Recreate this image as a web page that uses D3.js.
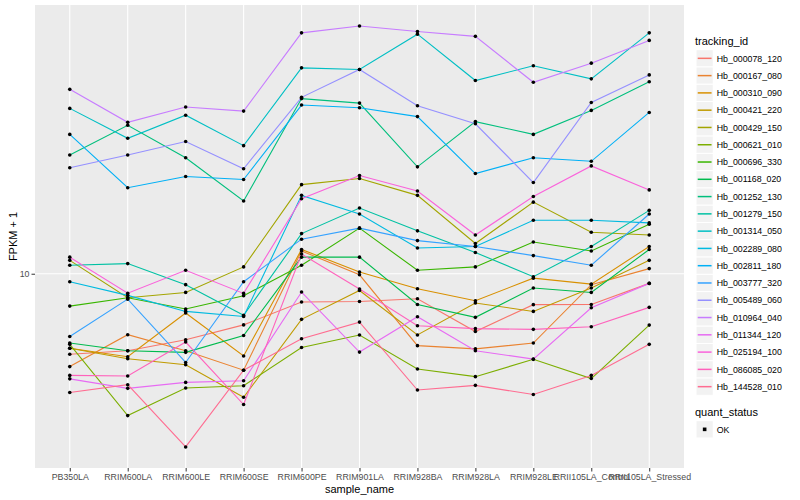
<!DOCTYPE html>
<html>
<head>
<meta charset="utf-8">
<script src="https://cdn.jsdelivr.net/npm/d3@7"></script>
<style>
body { margin: 0; background: #fff; }
text { font-family: "Liberation Sans", Arial, sans-serif; }
</style>
</head>
<body>
<div id="chart"></div>
<script>
const samples = ["PB350LA", "RRIM600LA", "RRIM600LE", "RRIM600SE", "RRIM600PE", "RRIM901LA",
    "RRIM928BA", "RRIM928LA", "RRIM928LE", "RRII105LA_Control", "RRII105LA_Stressed"];

const trackingIds = ["Hb_000078_120", "Hb_000167_080", "Hb_000310_090", "Hb_000421_220", "Hb_000429_150",
    "Hb_000621_010", "Hb_000696_330", "Hb_001168_020", "Hb_001252_130", "Hb_001279_150",
    "Hb_001314_050", "Hb_002289_080", "Hb_002811_180", "Hb_003777_320", "Hb_005489_060",
    "Hb_010964_040", "Hb_011344_120", "Hb_025194_100", "Hb_086085_020", "Hb_144528_010"];

const yTicks = [10];
const quantStatus = ["OK"];

// FPKM + 1, one value per sample (same order as samples)
const hb_000078_120 = [6.29, 6.42, 6.84, 7.45, 8.50, 8.52, 8.66, 7.17, 8.37, 8.38, 9.46];
const hb_000167_080 = [5.86, 7.04, 6.42, 5.74, 11.4, 9.94, 6.61, 6.49, 6.71, 9.39, 10.3];
const hb_000310_090 = [6.51, 6.20, 7.98, 6.23, 11.5, 10.1, 9.17, 8.56, 9.75, 9.42, 11.7];
const hb_000421_220 = [6.51, 6.13, 5.92, 4.91, 7.69, 9.08, 7.03, 8.45, 8.05, 9.21, 10.8];
const hb_000429_150 = [10.8, 8.71, 8.98, 10.4, 16.7, 17.3, 15.7, 11.9, 15.1, 12.7, 12.5];
const hb_000621_010 = [6.66, 4.42, 5.18, 5.25, 6.54, 7.03, 5.78, 5.53, 6.11, 5.47, 7.44];
const hb_000696_330 = [8.30, 8.71, 8.16, 8.81, 10.5, 13.0, 10.2, 10.4, 12.0, 11.4, 13.3];
const hb_001168_020 = [6.71, 6.42, 6.36, 7.01, 11.0, 11.0, 8.38, 7.78, 9.21, 8.98, 11.5];
const hb_001252_130 = [19.8, 23.5, 19.5, 15.2, 27.4, 26.7, 18.5, 24.0, 22.3, 25.6, 30.2];
const hb_001279_150 = [10.5, 10.6, 9.39, 7.87, 12.6, 14.6, 12.8, 11.3, 9.83, 11.7, 14.4];
const hb_001314_050 = [25.9, 21.8, 24.9, 20.9, 32.7, 32.4, 39.7, 30.4, 33.1, 30.7, 40.0];
const hb_002289_080 = [9.55, 8.83, 8.05, 7.82, 15.7, 14.1, 11.6, 11.7, 13.6, 13.6, 13.4];
const hb_002811_180 = [22.3, 16.4, 17.5, 17.2, 26.4, 26.0, 24.7, 17.8, 19.5, 19.1, 25.3];
const hb_003777_320 = [6.97, 8.64, 6.00, 9.55, 12.2, 13.0, 12.1, 11.7, 11.1, 10.5, 14.1];
const hb_005489_060 = [18.4, 19.8, 21.4, 18.3, 27.6, 32.4, 26.3, 23.7, 16.9, 26.8, 31.4];
const hb_010964_040 = [28.9, 23.9, 26.1, 25.5, 40.0, 41.6, 40.3, 39.2, 30.1, 33.6, 38.3];
const hb_011344_120 = [5.46, 5.17, 5.35, 5.40, 9.00, 6.37, 7.81, 6.42, 6.12, 8.22, 9.46];
const hb_025194_100 = [11.0, 8.94, 10.2, 8.93, 15.4, 17.6, 16.1, 12.5, 15.6, 18.6, 16.2];
const hb_086085_020 = [5.57, 5.55, 6.75, 4.71, 11.2, 9.16, 7.41, 7.29, 7.26, 7.37, 8.24];
const hb_144528_010 = [5.05, 5.28, 3.69, 5.74, 6.88, 7.57, 5.12, 5.26, 4.99, 5.57, 6.66];

const seriesValues = [hb_000078_120, hb_000167_080, hb_000310_090, hb_000421_220, hb_000429_150,
    hb_000621_010, hb_000696_330, hb_001168_020, hb_001252_130, hb_001279_150,
    hb_001314_050, hb_002289_080, hb_002811_180, hb_003777_320, hb_005489_060,
    hb_010964_040, hb_011344_120, hb_025194_100, hb_086085_020, hb_144528_010];

// ggplot hue palette for 20 levels
const palette = ["#F8766D", "#EA8331", "#D89000", "#C09B00", "#A3A500", "#7CAE00", "#39B600", "#00BB4E",
    "#00BF7D", "#00C1A3", "#00BFC4", "#00BAE0", "#00B0F6", "#35A2FF", "#9590FF", "#C77CFF",
    "#E76BF3", "#FA62DB", "#FF62BC", "#FF6C91"];

const series = trackingIds.map((id, i) => ({
    id: id,
    values: samples.map((s, j) => ({ sample: s, value: seriesValues[i][j] }))
}));

const width = 800, height = 500;
const panel = { left: 35, right: 684, top: 5, bottom: 468 };

const svg = d3.select("#chart")
    .append("svg")
    .attr("width", width)
    .attr("height", height);

svg.append("rect")
    .attr("width", width)
    .attr("height", height)
    .attr("fill", "#fff");

let x = d3.scalePoint()
    .domain(samples)
    .range([panel.left, panel.right])
    .padding(0.6);

// log scale with ggplot's 5% expansion
let allVals = seriesValues.flat();
let lo = Math.log10(d3.min(allVals)), hi = Math.log10(d3.max(allVals));
let pad = (hi - lo) * 0.05;
let y = d3.scaleLog()
    .domain([Math.pow(10, lo - pad), Math.pow(10, hi + pad)])
    .range([panel.bottom, panel.top]);

let color = d3.scaleOrdinal().domain(trackingIds).range(palette);

svg.append("rect")
    .attr("x", panel.left)
    .attr("y", panel.top)
    .attr("width", panel.right - panel.left)
    .attr("height", panel.bottom - panel.top)
    .attr("fill", "#EBEBEB");

// grid
svg.append("g")
    .selectAll("line")
    .data(samples)
    .enter()
    .append("line")
    .attr("x1", d => x(d)).attr("x2", d => x(d))
    .attr("y1", panel.top).attr("y2", panel.bottom)
    .attr("stroke", "#fff")
    .attr("stroke-width", 1.1);

svg.append("g")
    .selectAll("line")
    .data(yTicks)
    .enter()
    .append("line")
    .attr("x1", panel.left).attr("x2", panel.right)
    .attr("y1", d => y(d)).attr("y2", d => y(d))
    .attr("stroke", "#fff")
    .attr("stroke-width", 1.1);

// lines
let line = d3.line()
    .x(d => x(d.sample))
    .y(d => y(d.value));

svg.append("g")
    .selectAll("path")
    .data(series)
    .enter()
    .append("path")
    .attr("d", d => line(d.values))
    .attr("fill", "none")
    .attr("stroke", d => color(d.id))
    .attr("stroke-width", 1.1);

// points
svg.append("g")
    .selectAll("circle")
    .data(series.flatMap(d => d.values))
    .enter()
    .append("circle")
    .attr("cx", d => x(d.sample))
    .attr("cy", d => y(d.value))
    .attr("r", 1.8)
    .attr("fill", "#000");

// axes
let xAxis = svg.append("g")
    .attr("transform", "translate(0," + panel.bottom + ")")
    .call(d3.axisBottom(x).tickSize(3.5).tickPadding(2));
let yAxis = svg.append("g")
    .attr("transform", "translate(" + panel.left + ",0)")
    .call(d3.axisLeft(y).tickValues(yTicks).tickFormat(d3.format("d")).tickSize(3.5).tickPadding(2));

[xAxis, yAxis].forEach(a => {
    a.select(".domain").remove();
    a.selectAll(".tick line").attr("stroke", "#333333");
    a.selectAll(".tick text")
        .attr("fill", "#4D4D4D")
        .attr("font-size", "8.8px")
        .attr("font-family", "Liberation Sans, Arial, sans-serif");
});

svg.append("text")
    .attr("x", (panel.left + panel.right) / 2)
    .attr("y", 493)
    .attr("text-anchor", "middle")
    .attr("font-size", "11px")
    .text("sample_name");

svg.append("text")
    .attr("transform", "translate(17," + ((panel.top + panel.bottom) / 2) + ") rotate(-90)")
    .attr("text-anchor", "middle")
    .attr("font-size", "11px")
    .text("FPKM + 1");

// legend
let keySize = 17.28;
let legend = svg.append("g");

legend.append("text")
    .attr("x", 695)
    .attr("y", 44.5)
    .attr("font-size", "11px")
    .text("tracking_id");

let key = legend.selectAll(".key")
    .data(trackingIds)
    .enter()
    .append("g")
    .attr("class", "key")
    .attr("transform", (d, i) => "translate(696," + (49.7 + i * keySize) + ")");

key.append("rect")
    .attr("width", keySize)
    .attr("height", keySize)
    .attr("fill", "#F2F2F2")
    .attr("stroke", "#fff");

key.append("line")
    .attr("x1", keySize * 0.1).attr("x2", keySize * 0.9)
    .attr("y1", keySize / 2).attr("y2", keySize / 2)
    .attr("stroke", d => color(d))
    .attr("stroke-width", 1.5);

key.append("text")
    .attr("x", keySize + 3.5)
    .attr("y", keySize / 2 + 3.2)
    .attr("font-size", "8.8px")
    .text(d => d);

legend.append("text")
    .attr("x", 695)
    .attr("y", 416)
    .attr("font-size", "11px")
    .text("quant_status");

let okKey = legend.selectAll(".okkey")
    .data(quantStatus)
    .enter()
    .append("g")
    .attr("class", "okkey")
    .attr("transform", (d, i) => "translate(696," + (420.7 + i * keySize) + ")");

okKey.append("rect")
    .attr("width", keySize)
    .attr("height", keySize)
    .attr("fill", "#F2F2F2")
    .attr("stroke", "#fff");

okKey.append("rect")
    .attr("x", keySize / 2 - 1.8)
    .attr("y", keySize / 2 - 1.8)
    .attr("width", 3.6)
    .attr("height", 3.6)
    .attr("fill", "#000");

okKey.append("text")
    .attr("x", keySize + 3.5)
    .attr("y", keySize / 2 + 3.2)
    .attr("font-size", "8.8px")
    .text(d => d);
</script>
</body>
</html>
